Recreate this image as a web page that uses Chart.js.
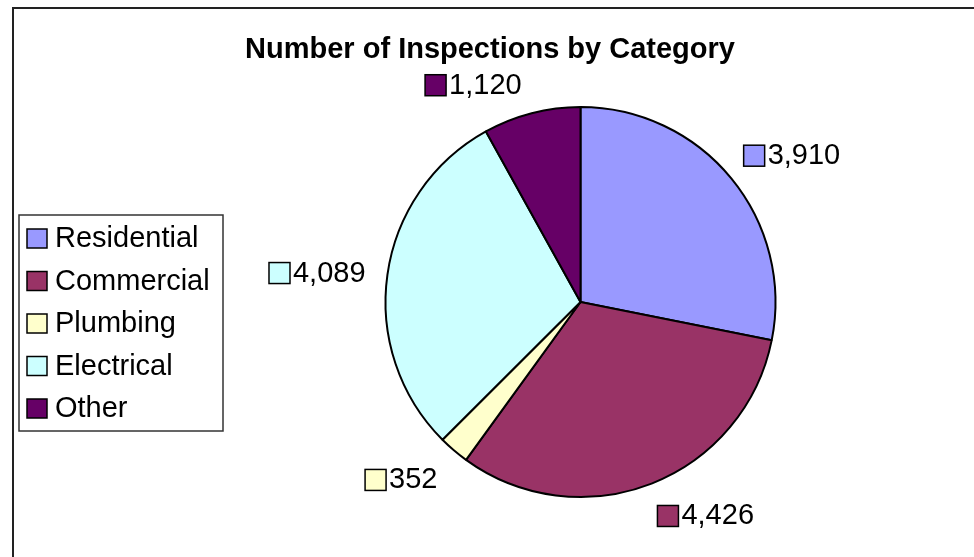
<!DOCTYPE html>
<html>
<head>
<meta charset="utf-8">
<title>Number of Inspections by Category</title>
<script src="https://cdn.jsdelivr.net/npm/chart.js@4/dist/chart.umd.min.js"></script>
<style>
  html, body { margin: 0; padding: 0; background: #fff; }
  #wrap { width: 974px; height: 557px; }
</style>
</head>
<body>
<div id="wrap"><canvas id="myChart" width="974" height="557"></canvas></div>
<script>
const chartTitle = "Number of Inspections by Category";
const categories = ["Residential", "Commercial", "Plumbing", "Electrical", "Other"];
const inspections = [3910, 4426, 352, 4089, 1120];
const sliceColors = ["#9999FF", "#993366", "#FFFFCC", "#CCFFFF", "#660066"];

const fontFamily = "'Liberation Sans', Arial, Helvetica, sans-serif";
const chartDOM = document.getElementById("myChart");

// frame lines + title (Excel style, only top and left edge visible)
const framePlugin = {
  id: "frame",
  beforeDraw(chart) {
    const ctx = chart.ctx;
    ctx.save();
    ctx.fillStyle = "#fff";
    ctx.fillRect(0, 0, chart.width, chart.height);
    ctx.strokeStyle = "#222";
    ctx.lineWidth = 2;
    ctx.beginPath();
    ctx.moveTo(13, chart.height);
    ctx.lineTo(13, 8);
    ctx.lineTo(chart.width, 8);
    ctx.stroke();

    ctx.fillStyle = "#000";
    ctx.font = "bold 29px " + fontFamily;
    ctx.textAlign = "center";
    ctx.textBaseline = "alphabetic";
    ctx.fillText(chartTitle, 490, 58);
    ctx.restore();
  }
};

// value labels outside each slice with a little colour key
const sliceLabels = {
  id: "sliceLabels",
  afterDatasetsDraw(chart) {
    const ctx = chart.ctx;
    const meta = chart.getDatasetMeta(0);
    ctx.save();
    ctx.font = "29px " + fontFamily;
    ctx.textBaseline = "middle";
    ctx.textAlign = "left";
    meta.data.forEach((arc, i) => {
      const a = arc.getProps(["x", "y", "startAngle", "endAngle", "outerRadius"], true);
      const mid = (a.startAngle + a.endAngle) / 2;
      const dx = Math.cos(mid), dy = Math.sin(mid);
      const px = a.x + dx * (a.outerRadius + 16);
      const py = a.y + dy * (a.outerRadius + 16);
      const txt = inspections[i].toLocaleString("en-US");
      const w = 24 + ctx.measureText(txt).width;
      const h = 26;
      const left = dx >= 0 ? px : px - w - 6;
      const top = Math.abs(dy) < 0.3 ? py - h / 2 : (dy > 0 ? py + 4 : py - h);
      const cy = top + h / 2;

      ctx.fillStyle = sliceColors[i];
      ctx.fillRect(left, cy - 10, 21, 21);
      ctx.strokeStyle = "#000";
      ctx.lineWidth = 1.5;
      ctx.strokeRect(left, cy - 10, 21, 21);
      ctx.fillStyle = "#000";
      ctx.fillText(txt, left + 24, cy + 1);
    });
    ctx.restore();
  }
};

// boxed legend on the left
const boxLegend = {
  id: "boxLegend",
  afterDraw(chart) {
    const ctx = chart.ctx;
    ctx.save();
    ctx.strokeStyle = "#333";
    ctx.lineWidth = 1.5;
    ctx.strokeRect(19, 215, 204, 216);
    ctx.font = "29px " + fontFamily;
    ctx.textBaseline = "middle";
    categories.forEach((label, i) => {
      const y = 238 + i * 42.5;
      ctx.fillStyle = sliceColors[i];
      ctx.fillRect(27, y - 9, 20, 19);
      ctx.strokeStyle = "#000";
      ctx.strokeRect(27, y - 9, 20, 19);
      ctx.fillStyle = "#000";
      ctx.fillText(label, 55, y + 1);
    });
    ctx.restore();
  }
};

const config = {
  type: "pie",
  data: {
    labels: categories,
    datasets: [{
      data: inspections,
      backgroundColor: sliceColors,
      borderColor: "#000",
      borderWidth: 2,
      radius: 195
    }]
  },
  options: {
    responsive: false,
    animation: false,
    layout: { padding: { left: 200, right: 13, top: 100, bottom: 53 } },
    plugins: {
      legend: { display: false },
      title: { display: false },
      tooltip: { enabled: false }
    }
  },
  plugins: [framePlugin, sliceLabels, boxLegend]
};

const myChart = new Chart(chartDOM, config);
</script>
</body>
</html>
